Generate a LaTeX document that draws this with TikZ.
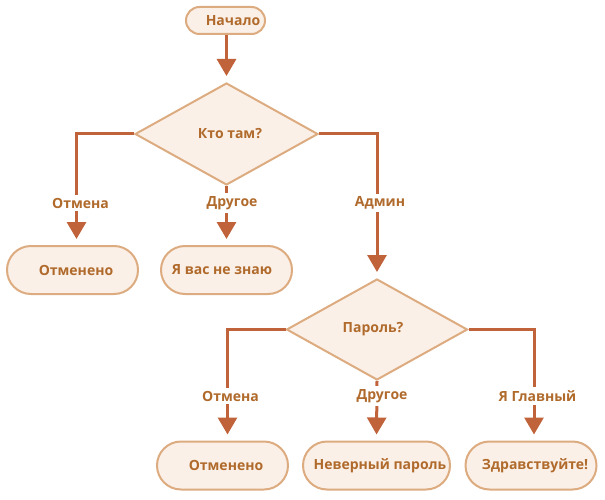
\documentclass[tikz,border=0pt]{standalone}
\usepackage{fontspec}
\setmainfont{Open Sans}
\usetikzlibrary{shapes.geometric,arrows.meta}
\definecolor{txtc}{HTML}{B06A2B}
\definecolor{linec}{HTML}{C0623A}
\definecolor{boxfill}{HTML}{FBF0E7}
\definecolor{boxdraw}{HTML}{DDAB80}
\tikzset{
  term/.style={draw=boxdraw, fill=boxfill, line width=2pt, rounded corners=24pt, inner sep=0pt,
    minimum width=131pt, minimum height=48pt, text=txtc, font=\bfseries\fontsize{14}{16}\selectfont},
  decide/.style={diamond, draw=boxdraw, fill=boxfill, line width=2pt, inner sep=0pt,
    text=txtc, font=\bfseries\fontsize{14}{16}\selectfont},
  edge/.style={draw=linec, line width=3pt, -{Triangle[width=19pt,length=17pt]}, shorten >=6pt},
  lab/.style={fill=white, inner sep=3pt, text=txtc, font=\bfseries\fontsize{14}{16}\selectfont}
}
\begin{document}
\begin{tikzpicture}[x=1pt,y=-1pt]
\useasboundingbox (0,0) rectangle (605,500);
% nodes
\node[term, minimum width=79pt, minimum height=27pt, rounded corners=13.5pt] (start) at (225.5,20.5) {\hspace{15pt}Начало};
\node[decide, minimum width=183pt, minimum height=102pt] (d1) at (226.5,134) {\hspace{7pt}Кто там?};
\node[term] (c1) at (72.5,270) {\hspace{7pt}Отменено};
\node[term] (u1) at (226.5,270) {\hspace{-9pt}Я вас не знаю};
\node[decide, minimum width=181pt, minimum height=101pt] (d2) at (377,329.5) {\hspace{-8pt}Пароль?};
\node[term] (c2) at (222.5,465.5) {\hspace{7pt}Отменено};
\node[term, minimum width=147pt] (w2) at (376.5,465.5) {\hspace{7pt}Неверный пароль};
\node[term] (h2) at (531,465.5) {\hspace{8pt}Здравствуйте!};
% edges
\draw[edge] ([xshift=1pt]start.south) -- (d1.north);
\draw[edge] (d1.west) -| ([xshift=4pt]c1.north);
\draw[edge] (d1.south) -- (u1.north);
\draw[edge] (d1.east) -| (d2.north);
\draw[edge] (d2.west) -| ([xshift=5pt]c2.north);
\draw[edge] (d2.south) -- (w2.north);
\draw[edge] (d2.east) -| ([xshift=3pt]h2.north);
% labels
\node[lab] (l1) at (80.5,203) {Отмена};
\node[lab] (l2) at (232,203) {Другое};
\node[lab] (l3) at (380,203) {Админ};
\node[lab] (l4) at (230.5,396) {Отмена};
\node[lab] (l5) at (382,396) {Другое};
\node[lab] (l6) at (537.5,396) {Я Главный};
\end{tikzpicture}
\end{document}
